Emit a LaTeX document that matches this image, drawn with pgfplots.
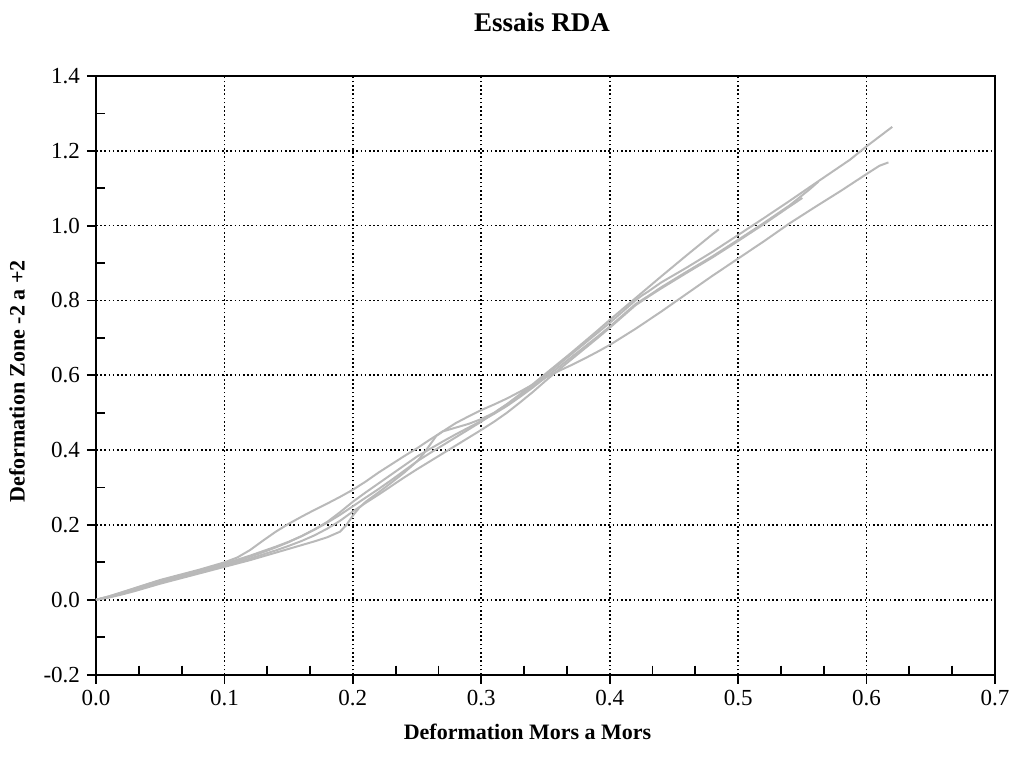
\documentclass[border=0pt]{standalone}
\usepackage{fontspec}
\setmainfont{Liberation Serif}
\usepackage{pgfplots}
\pgfplotsset{compat=1.18}
\definecolor{curvegray}{RGB}{185,185,185}
\pgfplotsset{curv/.style={color=curvegray, line width=1bp, mark=none}}
\begin{document}
\begin{tikzpicture}
\begin{axis}[
  name=ax,
  scale only axis,
  width=449.5bp, height=299.3bp,
  xmin=0, xmax=0.7, ymin=-0.2, ymax=1.4,
  xtick={0,0.1,0.2,0.3,0.4,0.5,0.6,0.7},
  ytick={-0.2,0,0.2,0.4,0.6,0.8,1.0,1.2,1.4},
  minor x tick num=2, minor y tick num=1,
  xtick pos=bottom, ytick pos=left,
  tick align=outside,
  major tick length=4.5bp,
  minor tick length=-4.5bp,
  tick style={black, line width=0.9bp},
  axis line style={black, line width=1bp},
  grid=major,
  major grid style={black, line width=0.8bp, dash pattern=on 0.8bp off 1.3bp},
  /pgf/number format/.cd, fixed, fixed zerofill, precision=1, assume math mode=true,
  /pgfplots/.cd,
  ticklabel style={font=\fontsize{11.5bp}{13bp}\selectfont},
  title={Essais RDA},
  title style={at={(axis description cs:0.496,1.054)}, anchor=base, font=\fontsize{13.5bp}{15bp}\selectfont\bfseries},
  xlabel={Deformation Mors a Mors},
  ylabel={Deformation Zone -2 a +2},
  xlabel style={at={(axis description cs:0.48,-0.109)}, anchor=base, font=\fontsize{11bp}{13bp}\selectfont\bfseries},
  ylabel style={at={(axis description cs:-0.088,0.49)}, anchor=center, rotate=0, font=\fontsize{11bp}{13bp}\selectfont\bfseries},
]
% curve B
\addplot[curv] coordinates {(0,0) (0.01,0.009) (0.02,0.02) (0.03,0.031) (0.04,0.042) (0.05,0.053) (0.06,0.062) (0.07,0.071) (0.08,0.08) (0.09,0.09) (0.10,0.100) (0.11,0.113) (0.12,0.133) (0.13,0.158) (0.14,0.182) (0.15,0.203) (0.16,0.222) (0.17,0.240) (0.18,0.257) (0.19,0.275) (0.20,0.294) (0.21,0.316) (0.22,0.340) (0.23,0.362) (0.24,0.384) (0.25,0.405) (0.26,0.428) (0.27,0.450) (0.28,0.472) (0.29,0.490) (0.30,0.507) (0.31,0.522) (0.32,0.538) (0.33,0.556) (0.34,0.575) (0.35,0.594) (0.36,0.611) (0.37,0.627) (0.38,0.644) (0.39,0.662) (0.40,0.681) (0.42,0.724) (0.44,0.770) (0.46,0.818) (0.48,0.866) (0.50,0.912) (0.52,0.958) (0.54,1.006) (0.56,1.050) (0.58,1.093) (0.60,1.138) (0.61,1.160) (0.617,1.169)};
% curve C
\addplot[curv] coordinates {(0,0) (0.01,0.006) (0.02,0.014) (0.03,0.023) (0.04,0.033) (0.05,0.043) (0.06,0.052) (0.07,0.061) (0.08,0.070) (0.09,0.079) (0.10,0.088) (0.11,0.097) (0.12,0.106) (0.13,0.116) (0.14,0.126) (0.15,0.136) (0.16,0.146) (0.17,0.156) (0.18,0.167) (0.19,0.182) (0.195,0.200) (0.20,0.225) (0.205,0.246) (0.21,0.262) (0.22,0.287) (0.23,0.313) (0.24,0.340) (0.25,0.370) (0.255,0.390) (0.26,0.414) (0.265,0.438) (0.27,0.450) (0.28,0.460) (0.29,0.470) (0.30,0.483) (0.31,0.500) (0.32,0.523) (0.33,0.549) (0.34,0.576) (0.35,0.604) (0.36,0.632) (0.37,0.660) (0.38,0.689) (0.39,0.718) (0.40,0.748) (0.42,0.806) (0.44,0.864) (0.46,0.921) (0.47,0.949) (0.48,0.977) (0.485,0.990)};
% curve A
\addplot[curv] coordinates {(0,0) (0.01,0.009) (0.02,0.019) (0.03,0.030) (0.04,0.041) (0.05,0.051) (0.06,0.060) (0.07,0.069) (0.08,0.078) (0.09,0.087) (0.10,0.097) (0.11,0.107) (0.12,0.118) (0.13,0.130) (0.14,0.142) (0.15,0.155) (0.16,0.170) (0.17,0.187) (0.18,0.206) (0.19,0.227) (0.20,0.250) (0.21,0.273) (0.22,0.296) (0.23,0.320) (0.24,0.345) (0.25,0.370) (0.26,0.392) (0.27,0.413) (0.28,0.434) (0.29,0.455) (0.30,0.476) (0.31,0.499) (0.32,0.522) (0.33,0.546) (0.34,0.572) (0.35,0.600) (0.36,0.628) (0.37,0.656) (0.38,0.684) (0.39,0.712) (0.40,0.740) (0.41,0.770) (0.42,0.800) (0.425,0.813) (0.43,0.824) (0.44,0.848) (0.46,0.888) (0.48,0.930) (0.50,0.975) (0.52,1.020) (0.54,1.066) (0.56,1.113) (0.575,1.148) (0.587,1.176) (0.60,1.212) (0.61,1.238) (0.62,1.264)};
% curve D
\addplot[curv] coordinates {(0,0) (0.01,0.008) (0.02,0.018) (0.03,0.028) (0.04,0.039) (0.05,0.049) (0.06,0.058) (0.07,0.067) (0.08,0.076) (0.09,0.085) (0.10,0.094) (0.11,0.104) (0.12,0.115) (0.13,0.127) (0.14,0.140) (0.15,0.154) (0.16,0.170) (0.17,0.188) (0.18,0.208) (0.19,0.234) (0.20,0.262) (0.21,0.287) (0.22,0.311) (0.23,0.335) (0.24,0.359) (0.25,0.383) (0.26,0.403) (0.27,0.423) (0.28,0.442) (0.29,0.460) (0.30,0.478) (0.31,0.497) (0.32,0.518) (0.33,0.542) (0.34,0.567) (0.35,0.594) (0.36,0.621) (0.37,0.648) (0.38,0.675) (0.39,0.702) (0.40,0.730) (0.41,0.760) (0.42,0.790) (0.43,0.812) (0.44,0.835) (0.46,0.877) (0.48,0.918) (0.50,0.962) (0.52,1.007) (0.54,1.054) (0.556,1.098) (0.5626,1.118)};
% curve E
\addplot[curv] coordinates {(0,0) (0.01,0.007) (0.02,0.016) (0.03,0.026) (0.04,0.036) (0.05,0.046) (0.06,0.055) (0.07,0.064) (0.08,0.073) (0.09,0.082) (0.10,0.091) (0.11,0.100) (0.12,0.110) (0.13,0.121) (0.14,0.132) (0.15,0.144) (0.16,0.157) (0.17,0.172) (0.18,0.190) (0.19,0.211) (0.20,0.236) (0.21,0.259) (0.22,0.281) (0.23,0.304) (0.24,0.327) (0.25,0.349) (0.26,0.370) (0.27,0.391) (0.28,0.412) (0.29,0.433) (0.30,0.454) (0.31,0.476) (0.32,0.500) (0.33,0.527) (0.34,0.555) (0.35,0.585) (0.36,0.614) (0.37,0.642) (0.38,0.670) (0.39,0.698) (0.40,0.727) (0.41,0.757) (0.42,0.787) (0.43,0.810) (0.44,0.832) (0.46,0.874) (0.48,0.915) (0.50,0.959) (0.52,1.004) (0.54,1.051) (0.55,1.074)};
\end{axis}
\pgfresetboundingbox
\path ([xshift=-48bp,yshift=-47.2bp]ax.south west) rectangle ([xshift=9.5bp,yshift=38bp]ax.north east);
\end{tikzpicture}
\end{document}
